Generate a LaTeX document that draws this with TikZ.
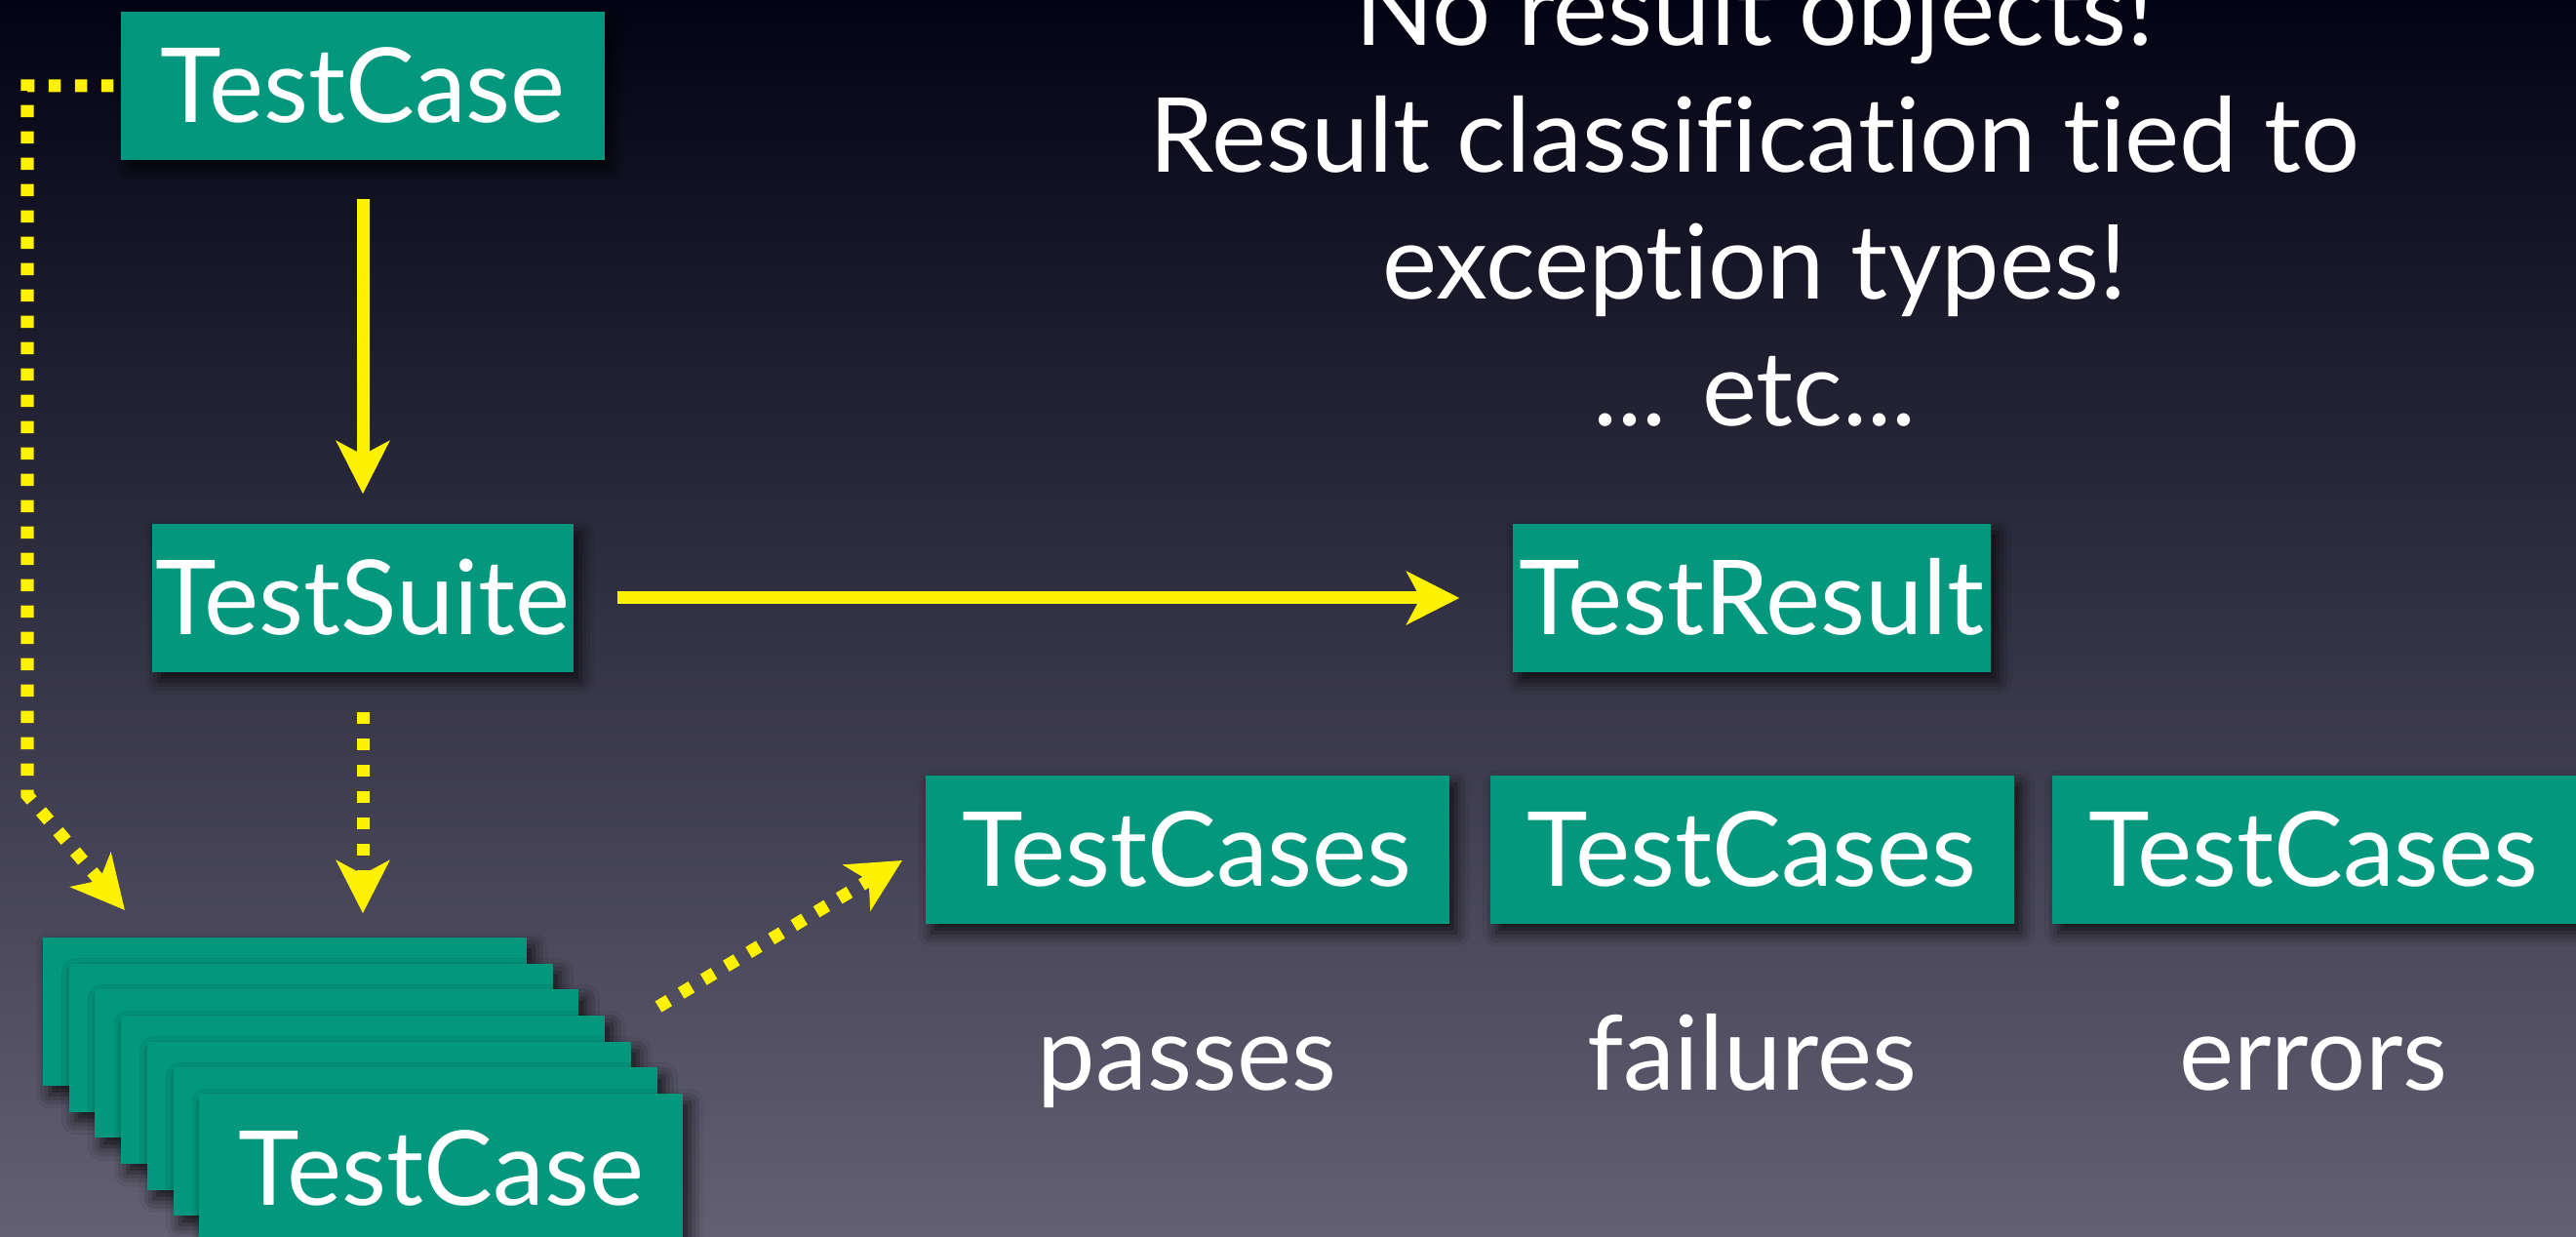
\documentclass[tikz,border=0pt]{standalone}
\usepackage{fontspec}
\setmainfont{Lato}[Ligatures=NoCommon]
\usepackage{tikz}
\definecolor{boxgreen}{RGB}{3, 151, 125}
\definecolor{linkyellow}{RGB}{255, 242, 0}
\definecolor{bgtop}{RGB}{3, 3, 20}
\definecolor{bgmid}{RGB}{40, 40, 62}
\definecolor{bgbottom}{RGB}{98, 96, 114}
\usetikzlibrary{arrows.meta,positioning,shadows.blur}

\begin{document}
\begin{tikzpicture}[
    box/.style={rectangle, fill=boxgreen, text=white, font=\fontsize{30.2}{37}\selectfont, minimum height=1.52cm, inner xsep=0pt, inner ysep=0.38cm, text height=0.76cm, text depth=0pt, blur shadow={shadow xshift=0.07cm, shadow yshift=-0.09cm, shadow blur radius=0.14cm, shadow opacity=75}},
    note/.style={text=white, font=\fontsize{30.2}{37}\selectfont, align=center},
    link/.style={-{Stealth[length=0.54cm, width=0.54cm, inset=0.14cm]}, line width=0.13cm, linkyellow},
    dotlink/.style={link, dash pattern=on 0.125cm off 0.145cm}
]
    % Background
    \useasboundingbox (0,0) rectangle (26.41,12.68);
    \shade[top color=bgtop, middle color=bgmid, bottom color=bgbottom] (0,0) rectangle (26.41,12.68);

    % Classes
    \node[box, minimum width=4.96cm] (testcase) at (3.72,11.80) {TestCase};
    \node[box, minimum width=4.32cm] (suite) at (3.72,6.55) {TestSuite};
    \node[box, minimum width=4.90cm] (result) at (17.96,6.55) {TestResult};

    % Result lists
    \node[box, minimum width=5.37cm] (passed) at (12.17,3.97) {TestCases};
    \node[box, minimum width=5.37cm] (failed) at (17.96,3.97) {TestCases};
    \node[box, minimum width=5.37cm] (errored) at (23.72,3.97) {TestCases};
    \node[note, below=1.70cm of passed.south, anchor=base] (passLabel) {passes};
    \node[note, below=1.70cm of failed.south, anchor=base] (failLabel) {failures};
    \node[note, below=1.70cm of errored.south, anchor=base] (errorLabel) {errors};

    % Stack of test cases
    \node[box, minimum width=4.96cm] (stack0) at (2.920,2.310) {};
    \node[box, minimum width=4.96cm] (stack1) at (3.187,2.043) {};
    \node[box, minimum width=4.96cm] (stack2) at (3.454,1.776) {};
    \node[box, minimum width=4.96cm] (stack3) at (3.721,1.509) {};
    \node[box, minimum width=4.96cm] (stack4) at (3.988,1.242) {};
    \node[box, minimum width=4.96cm] (stack5) at (4.255,0.975) {};
    \node[box, minimum width=4.96cm] (stack6) at (4.522,0.708) {TestCase};

    % Remarks (base = last line)
    \node[note, anchor=base] (remark) at (17.99,8.31) {
        No result objects!\\
        Result classification tied to\\
        exception types!\\
        ... etc...
    };

    % Links
    \draw[link, shorten <=0.39cm, shorten >=0.30cm] (testcase.south) -- (suite.north);
    \draw[link, shorten <=0.44cm, shorten >=0.54cm] (suite.east) -- (result.west);
    \draw[dotlink, shorten <=0.40cm, shorten >=0.24cm] (suite.south) -- (suite.south |- stack0.north);

    \coordinate (leftTurn) at (0.28,4.53);
    \coordinate (leftTip) at (1.28,3.35);
    \draw[dotlink, shorten <=0.07cm] (testcase.west) -| (leftTurn) -- (leftTip);

    \coordinate (stackOut) at (6.75,2.36);
    \coordinate (passIn) at (9.25,3.86);
    \draw[dotlink] (stackOut) -- (passIn);
\end{tikzpicture}
\end{document}
